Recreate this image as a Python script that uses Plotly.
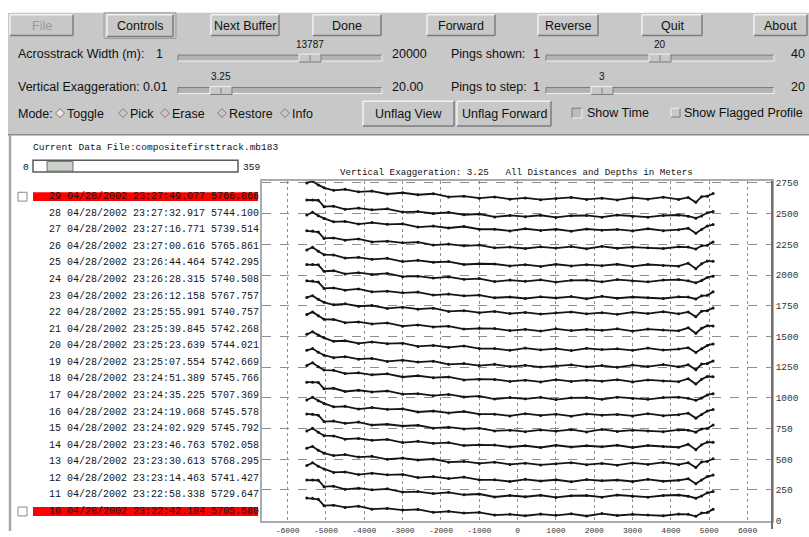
import plotly.graph_objects as go

W, H = 809, 537

# ---------------- data ----------------
distance_m = [-5500, -5350, -5200, -5050, -4800, -4500, -4150, -3800, -3400, -3000, -2600,
              -2200, -1800, -1400, -1000, -600, -200, 200, 600, 1000, 1400, 1800, 2200,
              2600, 3000, 3400, 3800, 4200, 4450, 4650, 4800, 4950, 5100]

ping_29 = [2750, 2764, 2734, 2710, 2690, 2698, 2678, 2684, 2660, 2670, 2654, 2662, 2636, 2642, 2626, 2636, 2618, 2628, 2614, 2624, 2632, 2616, 2626, 2612, 2630, 2618, 2634, 2616, 2632, 2592, 2638, 2642, 2664]
ping_28 = [2611, 2611, 2609, 2557, 2561, 2535, 2545, 2531, 2539, 2513, 2517, 2501, 2511, 2491, 2497, 2473, 2485, 2475, 2487, 2469, 2483, 2485, 2471, 2489, 2477, 2471, 2485, 2489, 2479, 2463, 2481, 2507, 2517]
ping_27 = [2489, 2511, 2483, 2461, 2433, 2437, 2415, 2427, 2413, 2417, 2391, 2399, 2383, 2395, 2373, 2373, 2359, 2377, 2363, 2373, 2357, 2375, 2365, 2371, 2359, 2377, 2361, 2369, 2381, 2341, 2371, 2399, 2411]
ping_26 = [2360, 2358, 2350, 2298, 2302, 2284, 2294, 2270, 2276, 2262, 2268, 2244, 2252, 2238, 2244, 2222, 2228, 2216, 2230, 2220, 2232, 2214, 2234, 2218, 2228, 2222, 2216, 2230, 2228, 2212, 2238, 2242, 2270]
ping_25 = [2204, 2226, 2194, 2166, 2164, 2138, 2144, 2128, 2136, 2110, 2120, 2104, 2110, 2086, 2092, 2090, 2074, 2084, 2070, 2088, 2074, 2084, 2076, 2088, 2070, 2086, 2078, 2072, 2096, 2052, 2092, 2114, 2112]
ping_24 = [2085, 2085, 2083, 2031, 2035, 2009, 2019, 2005, 2013, 1987, 1991, 1975, 1985, 1965, 1971, 1947, 1959, 1949, 1961, 1943, 1957, 1959, 1945, 1963, 1951, 1945, 1959, 1963, 1953, 1937, 1955, 1981, 1991]
ping_23 = [1953, 1951, 1943, 1891, 1895, 1877, 1887, 1863, 1869, 1855, 1861, 1837, 1845, 1831, 1837, 1815, 1821, 1809, 1823, 1813, 1825, 1807, 1827, 1811, 1821, 1815, 1809, 1823, 1821, 1805, 1831, 1835, 1863]
ping_22 = [1818, 1832, 1802, 1778, 1758, 1766, 1746, 1752, 1728, 1738, 1722, 1730, 1704, 1710, 1694, 1704, 1686, 1696, 1682, 1692, 1700, 1684, 1694, 1680, 1698, 1686, 1702, 1684, 1700, 1660, 1706, 1710, 1732]
ping_21 = [1678, 1700, 1668, 1640, 1638, 1612, 1618, 1602, 1610, 1584, 1594, 1578, 1584, 1560, 1566, 1564, 1548, 1558, 1544, 1562, 1548, 1558, 1550, 1562, 1544, 1560, 1552, 1546, 1570, 1526, 1566, 1588, 1586]
ping_20 = [1517, 1539, 1511, 1489, 1461, 1465, 1443, 1455, 1441, 1445, 1419, 1427, 1411, 1423, 1401, 1401, 1387, 1405, 1391, 1401, 1385, 1403, 1393, 1399, 1387, 1405, 1389, 1397, 1409, 1369, 1399, 1427, 1439]
ping_19 = [1387, 1401, 1371, 1347, 1327, 1335, 1315, 1321, 1297, 1307, 1291, 1299, 1273, 1279, 1263, 1273, 1255, 1265, 1251, 1261, 1269, 1253, 1263, 1249, 1267, 1255, 1271, 1253, 1269, 1229, 1275, 1279, 1301]
ping_18 = [1264, 1286, 1254, 1226, 1224, 1198, 1204, 1188, 1196, 1170, 1180, 1164, 1170, 1146, 1152, 1150, 1134, 1144, 1130, 1148, 1134, 1144, 1136, 1148, 1130, 1146, 1138, 1132, 1156, 1112, 1152, 1174, 1172]
ping_17 = [1128, 1128, 1126, 1074, 1078, 1052, 1062, 1048, 1056, 1030, 1034, 1018, 1028, 1008, 1014, 990, 1002, 992, 1004, 986, 1000, 1002, 988, 1006, 994, 988, 1002, 1006, 996, 980, 998, 1024, 1034]
ping_16 = [983, 1005, 977, 955, 927, 931, 909, 921, 907, 911, 885, 893, 877, 889, 867, 867, 853, 871, 857, 867, 851, 869, 859, 865, 853, 871, 855, 863, 875, 835, 865, 893, 905]
ping_15 = [869, 867, 859, 807, 811, 793, 803, 779, 785, 771, 777, 753, 761, 747, 753, 731, 737, 725, 739, 729, 741, 723, 743, 727, 737, 731, 725, 739, 737, 721, 747, 751, 779]
ping_14 = [730, 752, 720, 692, 690, 664, 670, 654, 662, 636, 646, 630, 636, 612, 618, 616, 600, 610, 596, 614, 600, 610, 602, 614, 596, 612, 604, 598, 622, 578, 618, 640, 638]
ping_13 = [590, 604, 574, 550, 530, 538, 518, 524, 500, 510, 494, 502, 476, 482, 466, 476, 458, 468, 454, 464, 472, 456, 466, 452, 470, 458, 474, 456, 472, 432, 478, 482, 504]
ping_12 = [449, 471, 443, 421, 393, 397, 375, 387, 373, 377, 351, 359, 343, 355, 333, 333, 319, 337, 323, 333, 317, 335, 325, 331, 319, 337, 321, 329, 341, 301, 331, 359, 371]
ping_11 = [331, 331, 329, 277, 281, 255, 265, 251, 259, 233, 237, 221, 231, 211, 217, 193, 205, 195, 207, 189, 203, 205, 191, 209, 197, 191, 205, 209, 199, 183, 201, 227, 237]
ping_10 = [184, 182, 174, 122, 126, 108, 118, 94, 100, 86, 92, 68, 76, 62, 68, 46, 52, 40, 54, 44, 56, 38, 58, 42, 52, 46, 40, 54, 52, 36, 62, 66, 94]

profiles = [ping_29, ping_28, ping_27, ping_26, ping_25, ping_24, ping_23, ping_22, ping_21, ping_20,
            ping_19, ping_18, ping_17, ping_16, ping_15, ping_14, ping_13, ping_12, ping_11, ping_10]

ping_numbers = [29, 28, 27, 26, 25, 24, 23, 22, 21, 20, 19, 18, 17, 16, 15, 14, 13, 12, 11, 10]
ping_times = ["23:27:49.077", "23:27:32.917", "23:27:16.771", "23:27:00.616", "23:26:44.464",
              "23:26:28.315", "23:26:12.158", "23:25:55.991", "23:25:39.845", "23:25:23.639",
              "23:25:07.554", "23:24:51.389", "23:24:35.225", "23:24:19.068", "23:24:02.929",
              "23:23:46.763", "23:23:30.613", "23:23:14.463", "23:22:58.338", "23:22:42.184"]
ping_values = ["5766.866", "5744.100", "5739.514", "5765.861", "5742.295", "5740.508", "5767.757",
               "5740.757", "5742.268", "5744.021", "5742.669", "5745.766", "5707.369", "5745.578",
               "5745.792", "5702.058", "5768.295", "5741.427", "5729.647", "5705.580"]
ping_date = "04/28/2002"
flagged_rows = [0, 19]

x_tick_vals = [-6000, -5000, -4000, -3000, -2000, -1000, 0, 1000, 2000, 3000, 4000, 5000, 6000]
x_tick_text = ["-6000", "-5000", "-4000", "-3000", "-2000", "-1000", "0", "1000", "2000", "3000", "4000", "5000", "6000"]
y_tick_vals = [0, 250, 500, 750, 1000, 1250, 1500, 1750, 2000, 2250, 2500, 2750]

# ---------------- helpers (pixel -> paper) ----------------
shapes, annotations = [], []
PANEL = "#c8c8c8"
LIGHT = "#f2f2f2"
DARK = "#7c7c7c"
SANS = "Liberation Sans"
MONO = "Liberation Mono"


def X(px):
    return px / W


def Y(py):
    return 1 - py / H


def rect(x0, y0, x1, y1, fill, line=None, width=1):
    shapes.append(dict(type="rect", xref="paper", yref="paper", x0=X(x0), x1=X(x1), y0=Y(y0), y1=Y(y1),
                       fillcolor=fill, line=dict(color=line or fill, width=width if line else 0), layer="above"))


def seg(x0, y0, x1, y1, color, width=1, dash="solid"):
    shapes.append(dict(type="line", xref="paper", yref="paper", x0=X(x0), x1=X(x1), y0=Y(y0), y1=Y(y1),
                       line=dict(color=color, width=width, dash=dash), layer="above"))


def bevel(x0, y0, x1, y1, raised=True, w=1):
    a, b = (LIGHT, DARK) if raised else (DARK, LIGHT)
    seg(x0, y0, x1, y0, a, w)
    seg(x0, y0, x0, y1, a, w)
    seg(x0, y1, x1, y1, b, w)
    seg(x1, y0, x1, y1, b, w)


def text(px, py, s, size=12.5, anchor="left", family=SANS, color="#111111"):
    annotations.append(dict(x=X(px), y=Y(py), xref="paper", yref="paper", text=s, showarrow=False,
                            xanchor=anchor, yanchor="middle", font=dict(family=family, size=size, color=color)))


def button(x0, x1, y0, y1, label, color="#111111"):
    rect(x0, y0, x1, y1, PANEL)
    bevel(x0, y0, x1, y1, True, 1.5)
    text((x0 + x1) / 2, (y0 + y1) / 2 + 0.5, label, anchor="center", color=color)


def slider(x0, x1, yc, thumb_x, value, lo_label_x, lo, hi_x, hi, label, label_x):
    text(label_x, yc - 4, label)
    text(lo_label_x, yc - 4, lo)
    rect(x0, yc - 3, x1, yc + 3, "#b4b4b4")
    bevel(x0, yc - 3, x1, yc + 3, False, 1)
    rect(thumb_x - 11, yc - 4, thumb_x + 11, yc + 4, PANEL)
    bevel(thumb_x - 11, yc - 4, thumb_x + 11, yc + 4, True, 1)
    seg(thumb_x, yc - 3, thumb_x, yc + 3, DARK, 1)
    text(thumb_x, yc - 14, value, size=10, anchor="center")
    text(hi_x, yc - 4, hi)


def diamond(cx, cy, r, fill):
    path = "M {a},{b} L {c},{d} L {a},{e} L {f},{d} Z".format(
        a=X(cx), b=Y(cy - r), c=X(cx + r), d=Y(cy), e=Y(cy + r), f=X(cx - r))
    shapes.append(dict(type="path", xref="paper", yref="paper", path=path, fillcolor=fill,
                       line=dict(color=DARK, width=1), layer="above"))


# ---------------- GUI frame ----------------
rect(8, 10, 809, 134, PANEL)
seg(8, 134, 809, 134, "#8a8a8a", 1.5)
seg(10, 134, 10, 537, "#a6a6a6", 2.5)

# top buttons
button(10, 73, 12, 33, "File", color="#9a9a9a")
rect(104, 10, 176, 36, PANEL, "#9a9a9a", 1)
button(107, 173, 12, 34, "Controls")
button(211, 279, 12, 33, "Next Buffer")
button(313, 381, 12, 33, "Done")
button(427, 495, 12, 33, "Forward")
button(538, 598, 12, 33, "Reverse")
button(642, 702, 12, 33, "Quit")
button(754, 807, 12, 33, "About")

# sliders
slider(178, 382, 56, 310, "13787", 154, "1", 390, "20000", "Acrosstrack Width (m):", 16)
slider(178, 382, 89, 221, "3.25", 0, "", 390, "20.00", "Vertical Exaggeration: 0.01", 16)
slider(546, 774, 56, 660, "20", 531, "1", 789, "40", "Pings shown:", 449)
slider(546, 774, 89, 602, "3", 531, "1", 789, "20", "Pings to step:", 449)

# mode row
text(16, 113, "Mode:")
for cx, lab, sel in [(60, "Toggle", True), (123, "Pick", False), (165, "Erase", False),
                     (222, "Restore", False), (285, "Info", False)]:
    diamond(cx, 112, 4.5, "#e8e8e8" if sel else PANEL)
    text(cx + 5, 113, lab)
button(363, 454, 100, 125, "Unflag View")
button(457, 551, 100, 125, "Unflag Forward")
rect(572, 107, 582, 117, "#bdbdbd")
bevel(572, 107, 582, 117, False, 1)
text(585, 112, "Show Time")
rect(671, 107, 680, 116, PANEL)
bevel(671, 107, 680, 116, True, 1)
text(682, 112, "Show Flagged Profile")

# file / scroll bar
text(31, 147, "Current Data File:compositefirsttrack.mb183", size=9.5, family=MONO)
text(21, 167, "0", size=9.5, family=MONO)
rect(33, 160, 238, 172, "white", "#5a5a5a", 1.5)
rect(47, 161, 73, 171, "#c9d1c9", "#6a6a6a", 1)
text(241, 167, "359", size=9.5, family=MONO)

# ping list
row_y = [197 + 16.85 * i for i in range(len(ping_numbers))]
for i, (n, t, v) in enumerate(zip(ping_numbers, ping_times, ping_values)):
    yc = row_y[i]
    if i in flagged_rows:
        rect(33, yc - 4.5, 258, yc + 4.5, "#ff0000")
        rect(18, yc - 4.5, 27, yc + 4.5, "white", "#8a8a8a", 1)
    text(47, yc, "{:2d} {} {} {}".format(n, ping_date, t, v), size=10, family=MONO, color="#151515")

# plot title
text(338, 172, "Vertical Exaggeration: 3.25   All Distances and Depths in Meters", size=9.2, family=MONO)

# right axis line with tail
seg(772, 181, 772, 535, "#707070", 2)

# ---------------- figure ----------------
fig = go.Figure()
for depths in profiles:
    fig.add_trace(go.Scatter(x=distance_m, y=depths, mode="lines+markers",
                             line=dict(color="#141414", width=1.8),
                             marker=dict(size=3, color="#141414"),
                             hoverinfo="skip", showlegend=False))

fig.update_layout(
    width=W, height=H,
    margin=dict(l=0, r=0, t=0, b=0),
    paper_bgcolor="white", plot_bgcolor="white",
    xaxis=dict(domain=[262 / W, 772 / W], range=[-6669, 6637],
               tickvals=x_tick_vals, ticktext=x_tick_text, ticks="",
               showgrid=True, gridcolor="#8e8e8e", griddash="dot", gridwidth=1,
               zeroline=False, showline=True, mirror=True, linecolor="#ababab", linewidth=1.5,
               tickfont=dict(family=MONO, size=8, color="#333")),
    yaxis=dict(domain=[1 - 527 / H, 1 - 181 / H], range=[-4, 2766], side="right",
               tickvals=y_tick_vals, ticks="", tickformat="d",
               showgrid=True, gridcolor="#8e8e8e", griddash="dash", gridwidth=1,
               zeroline=False, showline=True, mirror=True, linecolor="#ababab", linewidth=1.5,
               tickfont=dict(family=MONO, size=9.5, color="#333")),
    shapes=shapes, annotations=annotations,
)

fig.write_html("out.html", config={"displayModeBar": False})

# remove the default page margin so the figure sits at the window's top-left corner
with open("out.html", encoding="utf-8") as fh:
    page = fh.read()
page = page.replace("<body>", '<body style="margin:0;padding:0;overflow:hidden">', 1)
with open("out.html", "w", encoding="utf-8") as fh:
    fh.write(page)
